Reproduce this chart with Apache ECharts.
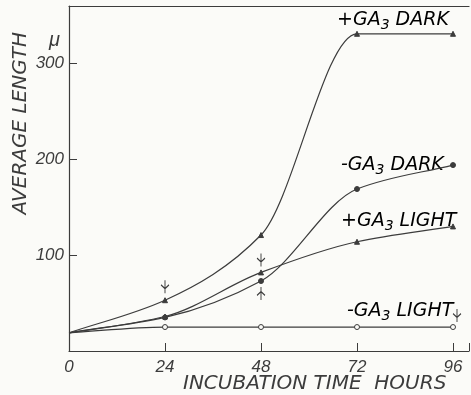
<!DOCTYPE html>
<html><head><meta charset="utf-8">
<script src="https://cdn.jsdelivr.net/npm/echarts@6/dist/echarts.min.js"></script>
<style>html,body{margin:0;padding:0;background:#fbfbf8}#c{width:471px;height:395px}</style>
</head><body><div id="c"></div>
<script>
const hours = [0, 24, 48, 72, 96];
const gaDark = [19, 53, 121, 331, 331];
const minusDark = [19, 35, 73, 169, 194];
const gaLight = [19, 36, 82, 114, 130];
const minusLight = [19, 25, 25, 25, 25];
const xTicks = [0, 24, 48, 72, 96];
const yTicks = [100, 200, 300];
const arrows = [[24, 67, 'down'], [48, 95, 'down'], [48, 60, 'up'], [97, 37, 'down']];

const ink = '#3c3c3c';
const bg = '#fbfbf8';
const numFont = '"Liberation Sans", Arial, sans-serif';
const txtFont = '"DejaVu Sans", sans-serif';
const downPath = 'path://M5,0 L5,14 M2,5 L5,9 L8,5';
const upPath = 'path://M5,0 L5,14 M2,9 L5,5 L8,9';

// monotone cubic (Fritsch-Carlson) tangents in data units
function tangents(xs, ys) {
  const n = xs.length, d = [], m = [];
  for (let i = 0; i < n - 1; i++) d.push((ys[i + 1] - ys[i]) / (xs[i + 1] - xs[i]));
  m[0] = d[0]; m[n - 1] = d[n - 2];
  for (let i = 1; i < n - 1; i++) {
    m[i] = (d[i - 1] * d[i] <= 0) ? 0 : 2 / (1 / d[i - 1] + 1 / d[i]);
  }
  return m;
}
function curveSeries(vals) {
  const m = tangents(hours, vals);
  return {
    type: 'custom', silent: true, z: 2,
    data: hours.map((h, i) => [h, vals[i]]),
    renderItem: function (params, api) {
      if (params.dataIndex !== 0) return null;
      const children = [];
      for (let i = 0; i < hours.length - 1; i++) {
        const h = hours[i + 1] - hours[i];
        const p0 = api.coord([hours[i], vals[i]]);
        const c1 = api.coord([hours[i] + h / 3, vals[i] + m[i] * h / 3]);
        const c2 = api.coord([hours[i + 1] - h / 3, vals[i + 1] - m[i + 1] * h / 3]);
        const p1 = api.coord([hours[i + 1], vals[i + 1]]);
        children.push({
          type: 'bezierCurve',
          shape: { x1: p0[0], y1: p0[1], cpx1: c1[0], cpy1: c1[1], cpx2: c2[0], cpy2: c2[1], x2: p1[0], y2: p1[1] },
          style: { stroke: ink, lineWidth: 1.2, fill: null }
        });
      }
      return { type: 'group', children };
    }
  };
}
function markers(vals, sym, fill) {
  return {
    type: 'scatter', z: 4, symbol: sym, symbolSize: 5,
    data: hours.slice(1).map((h, i) => [h, vals[i + 1]]),
    itemStyle: { color: fill, borderColor: ink, borderWidth: 1, opacity: 1 }
  };
}
const series = [
  curveSeries(gaDark), curveSeries(minusDark), curveSeries(gaLight), curveSeries(minusLight),
  markers(gaDark, 'triangle', ink),
  markers(minusDark, 'circle', ink),
  markers(gaLight, 'triangle', ink),
  markers(minusLight, 'circle', bg),
  {
    type: 'scatter', silent: true, z: 4,
    data: arrows.map(a => ({ value: [a[0], a[1]], symbol: a[2] === 'down' ? downPath : upPath })),
    symbolSize: [8, 13],
    itemStyle: { color: 'none', borderColor: ink, borderWidth: 1.2, opacity: 1 }
  }
];

function lbl(pre, post, x, y) {
  return {
    type: 'text', left: x, top: y,
    style: {
      text: '{a|' + pre + 'GA}{s|3}{a| ' + post + '}',
      rich: {
        a: { fontSize: 19, fontStyle: 'italic', fontFamily: txtFont, color: '#404040' },
        s: { fontSize: 14, fontStyle: 'italic', fontFamily: txtFont, color: '#404040', padding: [10, 0, 0, 0] }
      }
    }
  };
}

const chart = echarts.init(document.getElementById('c'));
chart.setOption({
  backgroundColor: bg,
  animation: false,
  grid: { left: 69, right: 2, top: 6, bottom: 44, containLabel: false, outerBoundsMode: 'none' },
  xAxis: [{
    type: 'value', min: 0, max: 100, interval: 24,
    axisLine: { show: true, lineStyle: { color: ink, width: 1.2 } },
    axisTick: { show: true, inside: true, length: 8, lineStyle: { color: ink } },
    splitLine: { show: false },
    axisLabel: {
      color: ink, fontSize: 17, fontStyle: 'italic', fontFamily: numFont, margin: 8,
      formatter: v => xTicks.includes(v) ? String(v) : ''
    }
  }, {
    type: 'value', position: 'top', min: 0, max: 100,
    axisLine: { show: true, lineStyle: { color: ink, width: 1.2 } },
    axisTick: { show: false }, axisLabel: { show: false }, splitLine: { show: false }
  }],
  yAxis: {
    type: 'value', min: 0, max: 360, interval: 100,
    axisLine: { show: true, lineStyle: { color: ink, width: 1.2 } },
    axisTick: { show: true, inside: true, length: 8, lineStyle: { color: ink } },
    splitLine: { show: false },
    axisLabel: {
      color: ink, fontSize: 17, fontStyle: 'italic', fontFamily: numFont, margin: 5,
      formatter: v => yTicks.includes(v) ? String(v) : ''
    }
  },
  graphic: [
    {
      type: 'text', left: 11, top: 32, rotation: Math.PI / 2,
      style: { text: 'AVERAGE LENGTH', fill: ink, font: 'italic 20px ' + txtFont }
    },
    {
      type: 'text', left: 49, top: 30,
      style: { text: 'μ', fill: ink, font: 'italic 20px ' + numFont }
    },
    {
      type: 'text', left: 183, top: 374,
      style: { text: 'INCUBATION TIME  HOURS', fill: ink, font: 'italic 20px ' + txtFont }
    },
    lbl('+', 'DARK', 337, 11),
    lbl('-', 'DARK', 341, 156),
    lbl('+', 'LIGHT', 341, 212),
    lbl('-', 'LIGHT', 347, 302)
  ],
  series
});
</script></body></html>
